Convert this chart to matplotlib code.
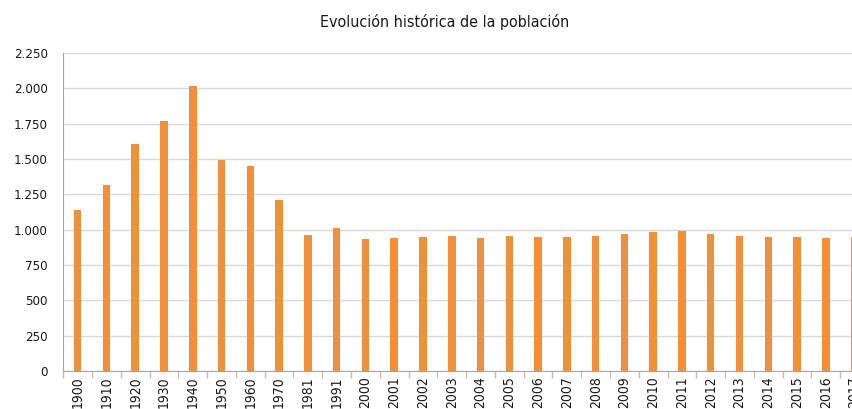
import matplotlib
matplotlib.use("Agg")
import matplotlib.pyplot as plt
from matplotlib.ticker import FuncFormatter, MultipleLocator, FixedLocator
from matplotlib import font_manager
import numpy as np

years = ["1900", "1910", "1920", "1930", "1940", "1950", "1960", "1970", "1981", "1991",
         "2000", "2001", "2002", "2003", "2004", "2005", "2006", "2007", "2008", "2009",
         "2010", "2011", "2012", "2013", "2014", "2015", "2016", "2017"]
population = [1137, 1318, 1604, 1769, 2019, 1495, 1450, 1209, 960, 1009,
              932, 944, 946, 953, 939, 953, 946, 946, 955, 967,
              983, 993, 972, 958, 946, 951, 944, 950]

# condensed font (closest to the reference's narrow typeface)
cond_file = None
for f in font_manager.fontManager.ttflist:
    if f.fname.endswith("DejaVuSansCondensed.ttf"):
        cond_file = f.fname
        break


def fprop(size):
    if cond_file:
        return font_manager.FontProperties(fname=cond_file, size=size)
    return font_manager.FontProperties(family="Liberation Sans", size=size * 0.9)


W, H = 853, 409
fig = plt.figure(figsize=(W / 100, H / 100), dpi=100)
left, right, top, bottom = 63.3, 869.0, 53.0, 371.0
ax = fig.add_axes([left / W, 1 - bottom / H, (right - left) / W, (bottom - top) / H])

x = np.arange(len(years))
ax.bar(x, population, width=0.26, color="#F28F3B", zorder=3)

ax.set_xlim(-0.5, len(years) - 0.5)
ax.set_ylim(0, 2250)
ax.yaxis.set_major_locator(MultipleLocator(250))
ax.yaxis.set_major_formatter(FuncFormatter(lambda v, p: f"{int(v):,}".replace(",", ".")))
ax.grid(axis="y", color="#d9d9d9", linewidth=1, zorder=0)

ax.set_xticks(x)
ax.set_xticklabels(years, rotation=90, fontproperties=fprop(10))
ax.tick_params(axis="x", which="major", length=0, pad=4, labelcolor="#1a1a1a")
ax.xaxis.set_minor_locator(FixedLocator(np.arange(-0.5, len(years), 1)))
ax.tick_params(axis="x", which="minor", length=5, color="#bfbfbf", width=1)
ax.tick_params(axis="y", length=0, pad=11, labelcolor="#1a1a1a")
for t in ax.get_yticklabels():
    t.set_fontproperties(fprop(9.5))

for s in ["top", "right"]:
    ax.spines[s].set_visible(False)
ax.spines["left"].set_color("#a6a6a6")
ax.spines["bottom"].set_color("#a6a6a6")

fig.text(445 / W, 1 - 22 / H, "Evolución histórica de la población", ha="center", va="center",
         fontproperties=fprop(11.5), color="#1a1a1a")

fig.savefig("out.png", dpi=100)
